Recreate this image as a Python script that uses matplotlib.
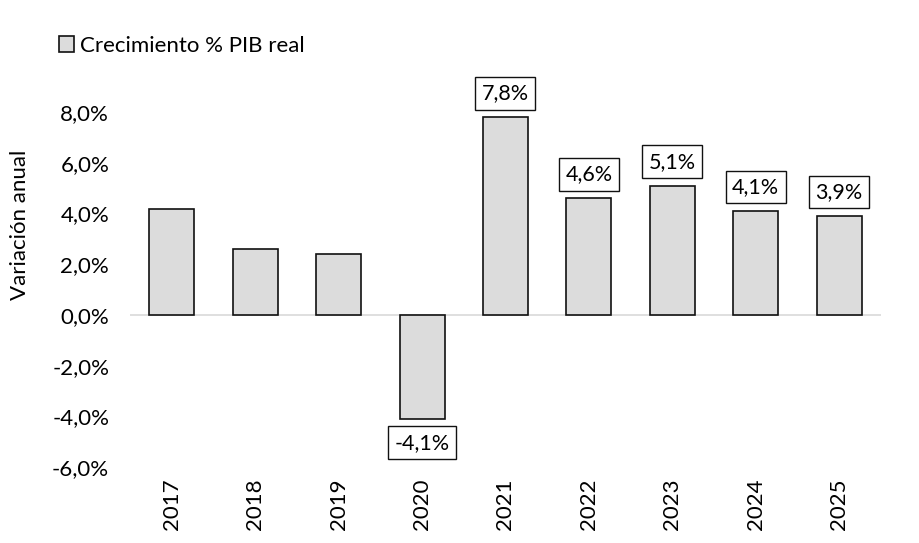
import matplotlib.pyplot as plt
import numpy as np

plt.rcParams['font.family'] = ['Lato', 'DejaVu Sans']

years = ['2017', '2018', '2019', '2020', '2021', '2022', '2023', '2024', '2025']
growth = [4.2, 2.6, 2.4, -4.1, 7.8, 4.6, 5.1, 4.1, 3.9]
labels = [None, None, None, '-4,1%', '7,8%', '4,6%', '5,1%', '4,1%', '3,9%']

fig = plt.figure(figsize=(9.19, 5.43), dpi=100)
ax = fig.add_axes([0.1415, 0.14, 0.817, 0.70])

x = np.arange(len(years))
ax.bar(x, growth, width=0.54, color='#dcdcdc', edgecolor='#111111',
       linewidth=1.2, label='Crecimiento % PIB real', zorder=2)
ax.axhline(0, color='#d9d9d9', linewidth=1.2, zorder=1)

for xi, v, lab in zip(x, growth, labels):
    if lab is None:
        continue
    off = 0.95 if v >= 0 else -0.95
    ax.text(xi, v + off, lab, ha='center', va='center', fontsize=15.5,
            bbox=dict(boxstyle='square,pad=0.3', facecolor='white',
                      edgecolor='#111111', linewidth=1.0), zorder=3)

ax.set_xlim(-0.5, len(years) - 0.5)
ax.set_ylim(-6, 9)
ticks = np.arange(-6, 9, 2)
ax.set_yticks(ticks)
ax.set_yticklabels([f'{t:.1f}%'.replace('.', ',') for t in ticks], fontsize=16)
ax.set_xticks(x)
ax.set_xticklabels(years, rotation=90, fontsize=16)
ax.tick_params(length=0, pad=8)
ax.tick_params(axis='y', pad=15)
for s in ax.spines.values():
    s.set_visible(False)
ax.set_ylabel('Variación anual', fontsize=16)
ax.yaxis.set_label_coords(-0.133, 0.637)

ax.legend(loc='upper left', bbox_to_anchor=(-0.095, 1.135), frameon=False,
          borderaxespad=0, borderpad=0, fontsize=16, handlelength=0.7,
          handleheight=0.7, handletextpad=0.25)

fig.savefig('out.png', dpi=100)
